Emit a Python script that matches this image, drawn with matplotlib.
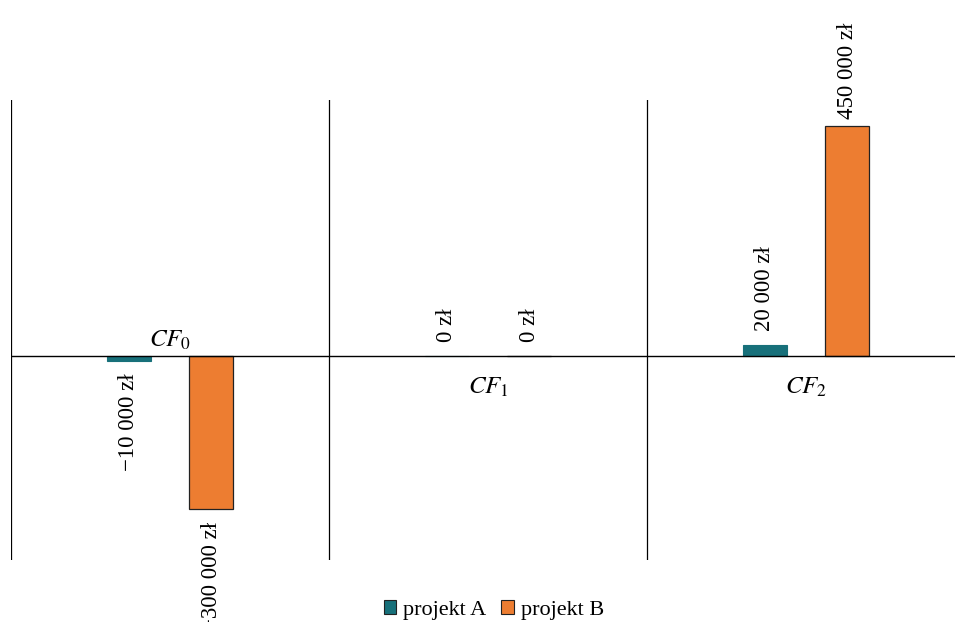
import matplotlib
matplotlib.use('Agg')
from matplotlib import pyplot as plt
from matplotlib.patches import Patch
from matplotlib import transforms
import numpy as np

plt.rcParams['font.family'] = ['Liberation Serif', 'DejaVu Serif']
plt.rcParams['mathtext.fontset'] = 'stix'

# przepływy pieniężne w kolejnych okresach
okresy = [r'$CF_0$', r'$CF_1$', r'$CF_2$']
projekt_a = [-10000, 0, 20000]
projekt_b = [-300000, 0, 450000]
nazwy = ['projekt A', 'projekt B']
kolory = ['#17707a', '#ed7d31']


def zl(v):
    s = f'{abs(v):,}'.replace(',', ' ') + ' zł'
    return ('\u2212' + s) if v < 0 else s


def przesun(px):
    # przesunięcie w pikselach (dpi=100)
    return ax.transData + transforms.ScaledTranslation(0, px / 100, fig.dpi_scale_trans)


fig = plt.figure(figsize=(9.55, 6.22), dpi=100)
ax = fig.add_axes([0.0115, 0.0997, 0.999, 0.7395])

x = np.arange(len(okresy))
w = 0.138
off = 0.129

ax.bar(x - off, projekt_a, w, color=kolory[0], edgecolor=kolory[0], linewidth=0.8, zorder=2)
ax.bar(x + off, projekt_b, w, color=kolory[1], edgecolor='#222222', linewidth=0.9, zorder=2)

# etykiety wartości nad/pod słupkami
for xs, vals in [(x - off, projekt_a), (x + off, projekt_b)]:
    for xi, v in zip(xs, vals):
        if v >= 400000:
            dy = 7
        elif v >= 0:
            dy = 14
        else:
            dy = -13
        ax.text(xi, v, zl(v), rotation=90, ha='center',
                va='bottom' if v >= 0 else 'top', fontsize=16.5,
                transform=przesun(dy), clip_on=False)

# podpisy okresów przy osi
for xi, lab, va, yy in zip(x, okresy, ['bottom', 'top', 'top'], [4, -20, -20]):
    ax.text(xi, 0, lab, ha='center', va=va, fontsize=18, transform=przesun(yy))

ax.axhline(0, color='black', linewidth=1, zorder=3)
for b in [-0.5, 0.5, 1.5]:
    ax.axvline(b, color='black', linewidth=0.9)

ax.set_xlim(-0.5, 2.5)
ax.set_ylim(-400000, 500000)
ax.axis('off')

uchwyty = [Patch(facecolor=c, edgecolor='#222222', linewidth=0.8) for c in kolory]
fig.legend(uchwyty, nazwy, loc='center', bbox_to_anchor=(0.517, 0.019),
           ncol=2, frameon=False, fontsize=16, handlelength=0.55, handleheight=0.55,
           handletextpad=0.32, columnspacing=0.68, borderpad=0.2)

plt.savefig('out.png', dpi=100)
